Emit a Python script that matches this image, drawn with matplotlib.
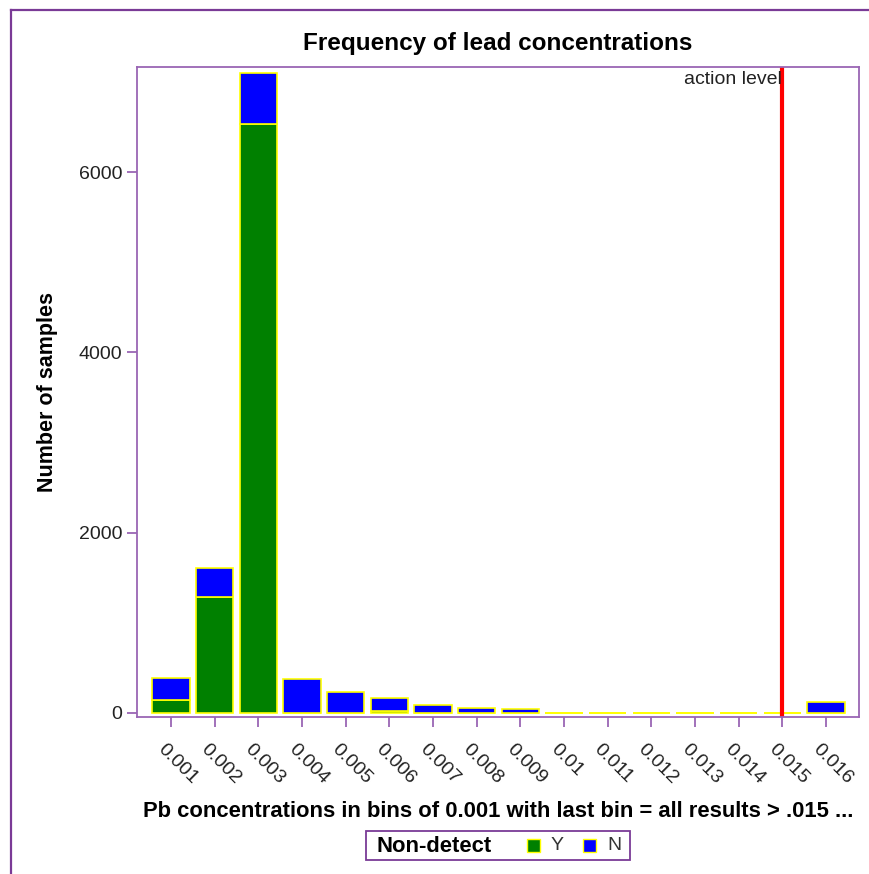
import numpy as np
import matplotlib.pyplot as plt
import matplotlib.transforms as mtransforms
from matplotlib.patches import Rectangle
from matplotlib.lines import Line2D

plt.rcParams["font.family"] = ["Liberation Sans", "DejaVu Sans"]

bins = ["0.001", "0.002", "0.003", "0.004", "0.005", "0.006", "0.007", "0.008",
        "0.009", "0.01", "0.011", "0.012", "0.013", "0.014", "0.015", "0.016"]
nondetect_y = [141, 1289, 6535, 0, 0, 15, 0, 0, 0, 0, 0, 0, 0, 0, 0, 0]
nondetect_n = [244, 322, 567, 374, 233, 152, 85, 49, 42, 0, 0, 0, 0, 0, 0, 115]
action_level_bin = "0.015"

GREEN = "#008000"
BLUE = "#0000ff"
EDGE = "#ffff00"
FRAME = "#7a3a96"
SPINE = "#9a66b4"

fig = plt.figure(figsize=(8.69, 8.74), dpi=100)
W, H = 869, 874

# outer frame (left and top visible)
fig.add_artist(Line2D([11 / W, 11 / W], [0, 1 - 10 / H], transform=fig.transFigure,
                      color=FRAME, lw=1.6))
fig.add_artist(Line2D([11 / W, 1], [1 - 10 / H, 1 - 10 / H], transform=fig.transFigure,
                      color=FRAME, lw=1.6))

ax = fig.add_axes([137 / W, 1 - 717 / H, (859 - 137) / W, (717 - 67) / H])

x = np.arange(len(bins))
y_vals = np.array(nondetect_y)
n_vals = np.array(nondetect_n)
ax.bar(x, y_vals, width=0.85, color=GREEN, edgecolor=EDGE, linewidth=1.2)
ax.bar(x, n_vals, width=0.85, bottom=y_vals, color=BLUE, edgecolor=EDGE, linewidth=1.2)

xa = bins.index(action_level_bin)
ax.axvline(xa, color="#ff0000", lw=3)
ax.text(xa - 0.02, 7130, "action level", ha="right", va="top", fontsize=14, color="#222222")

ax.set_xlim(-0.778, 15.756)
ax.set_ylim(-48, 7170)
ax.set_yticks([0, 2000, 4000, 6000])
ax.set_xticks(x)
ax.set_xticklabels(bins, rotation=-45, ha="left", va="top", rotation_mode="anchor")
ax.tick_params(axis="both", colors=SPINE, labelcolor="#222222", length=7, width=1.3,
               labelsize=14)
ax.tick_params(axis="x", pad=10)
shift = mtransforms.ScaledTranslation(-5 / 100, 0, fig.dpi_scale_trans)
for lbl in ax.get_xticklabels():
    lbl.set_transform(lbl.get_transform() + shift)
for s in ax.spines.values():
    s.set_color(SPINE)
    s.set_linewidth(1.3)

ax.set_title("Frequency of lead concentrations", fontsize=17.5, fontweight="bold", pad=12)
ax.set_ylabel("Number of samples", fontsize=15.5, fontweight="bold", labelpad=15)
ax.set_xlabel("Pb concentrations in bins of 0.001 with last bin = all results > .015 ...",
              fontsize=15.8, fontweight="bold", labelpad=10)

# legend
fig.add_artist(Rectangle((366 / W, 1 - 860 / H), (630 - 366) / W, 29 / H,
                         transform=fig.transFigure, facecolor="white",
                         edgecolor=FRAME, lw=1.3))
fig.text(376 / W, 1 - 846 / H, "Non-detect", fontsize=15.8, fontweight="bold",
         ha="left", va="center")
for x0, col, lab in [(527, GREEN, "Y"), (583, BLUE, "N")]:
    fig.add_artist(Rectangle((x0 / W, 1 - 852 / H), 13 / W, 13 / H,
                             transform=fig.transFigure, facecolor=col,
                             edgecolor=EDGE, lw=1))
    fig.text((x0 + 24) / W, 1 - 846 / H, lab, fontsize=14, ha="left",
             va="center", color="#333333")

fig.savefig("out.png", dpi=100)
